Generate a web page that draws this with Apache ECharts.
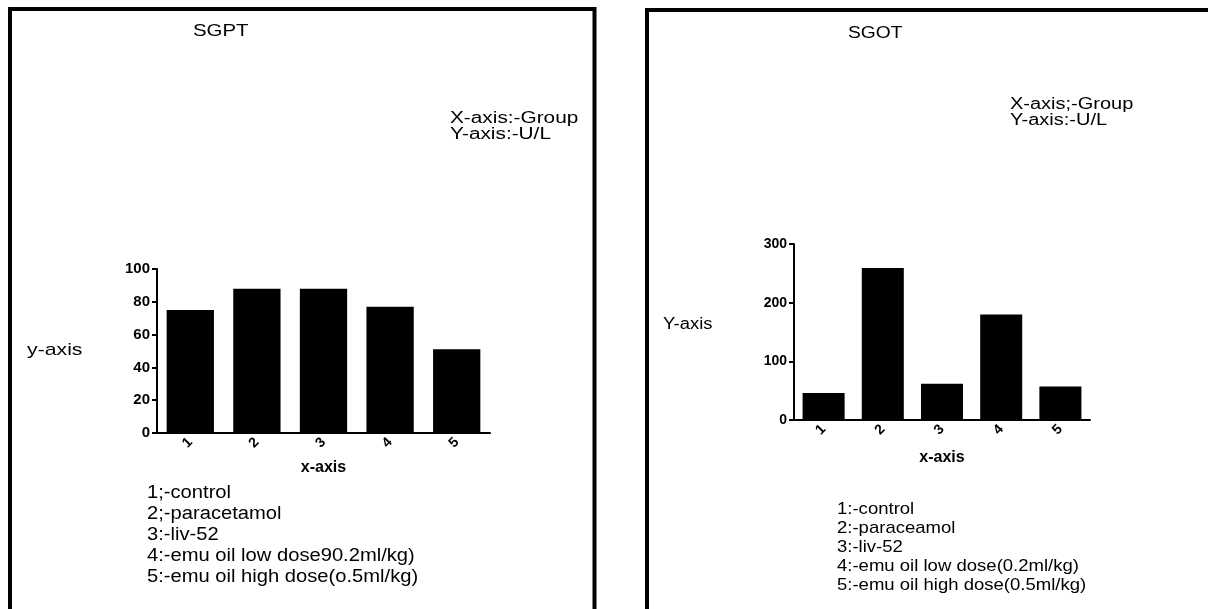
<!DOCTYPE html>
<html>
<head>
<meta charset="utf-8">
<script src="https://cdn.jsdelivr.net/npm/echarts@6/dist/echarts.min.js"></script>
<style>
html,body{margin:0;padding:0;background:#fff;}
#c{width:1208px;height:609px;}
</style>
</head>
<body>
<div id="c"></div>
<script>
// ---- data ----
const categories = ['1', '2', '3', '4', '5'];
const sgptValues = [75, 88, 88, 77, 51];
const sgotValues = [46, 259, 62, 180, 57];
const sgptTitle = 'SGPT';
const sgotTitle = 'SGOT';
const sgptAxisNote = ['X-axis:-Group', 'Y-axis:-U/L'];
const sgotAxisNote = ['X-axis;-Group', 'Y-axis:-U/L'];
const sgptLegend = ['1;-control', '2;-paracetamol', '3:-liv-52', '4:-emu oil low dose90.2ml/kg)', '5:-emu oil high dose(o.5ml/kg)'];
const sgotLegend = ['1:-control', '2:-paraceamol', '3:-liv-52', '4:-emu oil low dose(0.2ml/kg)', '5:-emu oil high dose(0.5ml/kg)'];
const sgptYName = 'y-axis';
const sgotYName = 'Y-axis';
const xName = 'x-axis';
const sgptYMax = 100, sgptYInterval = 20;
const sgotYMax = 300, sgotYInterval = 100;

const FONT = '"Liberation Sans", Arial, sans-serif';
const chart = echarts.init(document.getElementById('c'), null, {renderer: 'canvas'});

function xAxisCfg(gi, gap) {
  return {
    type: 'category', gridIndex: gi, data: categories,
    name: xName, nameLocation: 'middle', nameGap: gap,
    nameTextStyle: {fontFamily: FONT, fontWeight: 'bold', fontSize: 16, color: '#000'},
    axisLine: {lineStyle: {color: '#000', width: 2}},
    axisTick: {alignWithLabel: true, length: 5, lineStyle: {color: '#000', width: 2}},
    axisLabel: {rotate: 45, color: '#000', fontFamily: FONT, fontWeight: 'bold', fontSize: 14, margin: 7}
  };
}
function yAxisCfg(gi, max, interval, fs) {
  return {
    type: 'value', gridIndex: gi, min: 0, max: max, interval: interval,
    axisLine: {show: true, lineStyle: {color: '#000', width: 2}},
    axisTick: {show: true, length: 5, lineStyle: {color: '#000', width: 2}},
    splitLine: {show: false},
    axisLabel: {color: '#000', fontFamily: FONT, fontWeight: 'bold', fontSize: fs, margin: 7}
  };
}
function txt(text, x, y, size, sx, lh) {
  return {
    type: 'text', x: x, y: y, scaleX: sx, scaleY: 1,
    style: {text: text, font: size + 'px ' + FONT, fill: '#000', textVerticalAlign: 'middle', lineHeight: lh || size}
  };
}

chart.setOption({
  animation: false,
  backgroundColor: '#fff',
  grid: [
    {left: 157, top: 269, width: 333, height: 164},
    {left: 794, top: 244, width: 296, height: 176}
  ],
  xAxis: [xAxisCfg(0, 27), xAxisCfg(1, 30)],
  yAxis: [yAxisCfg(0, sgptYMax, sgptYInterval, 15), yAxisCfg(1, sgotYMax, sgotYInterval, 14)],
  series: [
    {type: 'bar', xAxisIndex: 0, yAxisIndex: 0, data: sgptValues, barCategoryGap: '29%', itemStyle: {color: '#000'}},
    {type: 'bar', xAxisIndex: 1, yAxisIndex: 1, data: sgotValues, barCategoryGap: '29%', itemStyle: {color: '#000'}}
  ],
  graphic: [
    {type: 'rect', shape: {x: 10, y: 9, width: 584.5, height: 700}, style: {fill: 'none', stroke: '#000', lineWidth: 4}},
    {type: 'rect', shape: {x: 647, y: 10, width: 700, height: 700}, style: {fill: 'none', stroke: '#000', lineWidth: 4}},
    txt(sgptTitle, 193, 31, 17, 1.2),
    txt(sgotTitle, 848, 34, 16, 1.2),
    txt(sgptAxisNote.join('\n'), 450, 127, 16, 1.3, 16),
    txt(sgotAxisNote.join('\n'), 1010, 113, 16, 1.25, 16),
    txt(sgptYName, 27, 350, 17, 1.25),
    txt(sgotYName, 663, 325, 16, 1.15),
    txt(sgptLegend.join('\n'), 147, 535, 18, 1.12, 21),
    txt(sgotLegend.join('\n'), 837, 547, 17, 1.09, 19)
  ]
});
</script>
</body>
</html>
